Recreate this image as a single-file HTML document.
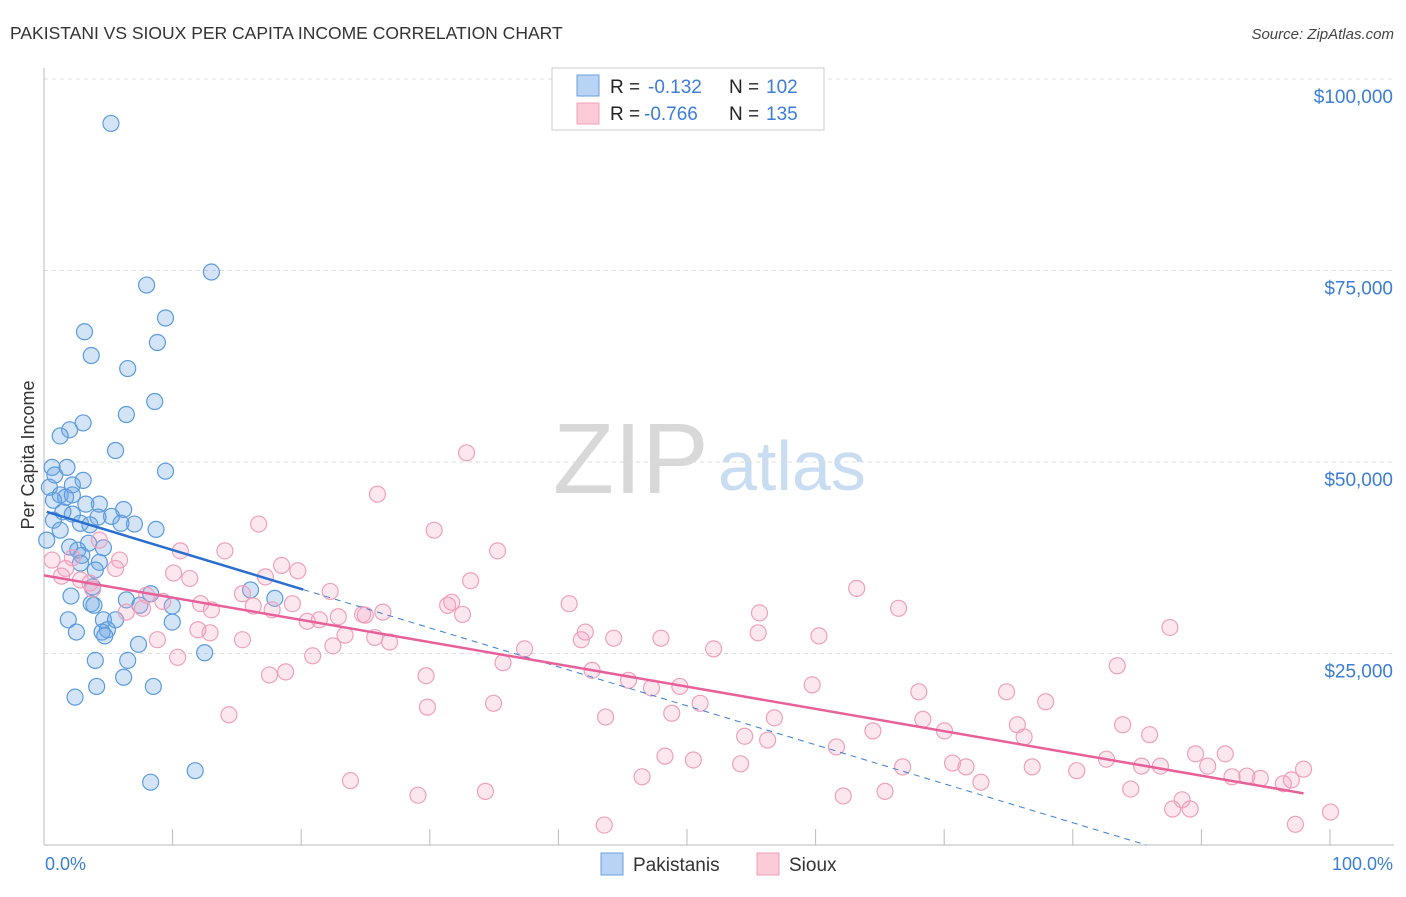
<!DOCTYPE html>
<html><head><meta charset="utf-8"><style>
body{margin:0;background:#fff;font-family:"Liberation Sans",sans-serif;}
svg text{font-family:"Liberation Sans",sans-serif;}
</style></head><body>
<svg id="chart" width="1406" height="892" viewBox="0 0 1406 892" xmlns="http://www.w3.org/2000/svg">
<text x="10" y="39" font-size="17.5" fill="#333">PAKISTANI VS SIOUX PER CAPITA INCOME CORRELATION CHART</text>
<text x="1394" y="39" font-size="15" fill="#444" text-anchor="end" font-style="italic">Source: ZipAtlas.com</text>
<g>
<text x="553" y="493" font-size="100" fill="#d8d8d8" font-family="Liberation Serif, serif">ZIP</text>
<text x="718" y="490" font-size="70" fill="#c8dcf2">atlas</text>
</g>
<g id="grid"></g>
<g id="axes"></g>
<g id="blue"></g>
<g id="pink"></g>
<g id="trends"></g>
<text transform="translate(34,455) rotate(-90)" font-size="18" fill="#333" text-anchor="middle">Per Capita Income</text>
<text x="45" y="870" font-size="18" fill="#3b7dd8">0.0%</text>
<text x="1393" y="870" font-size="18" fill="#3b7dd8" text-anchor="end">100.0%</text>
<g>
<rect x="552" y="68" width="272" height="62" fill="#fff" stroke="#ccc"/>
<rect x="577" y="75" width="22" height="21" fill="#b8d3f3" stroke="#6aa0e0"/>
<rect x="577" y="103" width="22" height="21" fill="#fbcbd8" stroke="#f0a0b8"/>
<text x="610" y="93" font-size="19" fill="#222">R = </text><text x="648" y="93" font-size="19" fill="#3b7dd8">-0.132</text>
<text x="729" y="93" font-size="19" fill="#222">N = </text><text x="766" y="93" font-size="19" fill="#3b7dd8">102</text>
<text x="610" y="120" font-size="19" fill="#222">R = </text><text x="644" y="120" font-size="19" fill="#3b7dd8">-0.766</text>
<text x="729" y="120" font-size="19" fill="#222">N = </text><text x="766" y="120" font-size="19" fill="#3b7dd8">135</text>
</g>
<g>
<rect x="601" y="853" width="22" height="22" fill="#b8d3f3" stroke="#6aa0e0"/>
<text x="633" y="871" font-size="19" fill="#333">Pakistanis</text>
<rect x="757" y="853" width="22" height="22" fill="#fbcbd8" stroke="#f0a0b8"/>
<text x="789" y="871" font-size="19" fill="#333">Sioux</text>
</g>
</svg>
<script>
const yTicks=[25000,50000,75000,100000];
const yTickLabels=["$25,000","$50,000","$75,000","$100,000"];
const blueX=[4.96,12.4,7.6,9.0,3.0,8.4,3.5,6.2,6.1,8.2,2.9,1.9,1.2,5.3,9.0,0.6,1.7,0.8,2.9,2.1,0.4,1.2,1.6,2.1,0.7,4.1,3.1,5.9,1.4,2.1,5.0,0.7,4.0,2.7,3.4,5.7,6.7,8.3,1.2,0.2,3.3,1.9,4.4,2.5,2.8,4.1,2.7,3.8,3.6,7.9,2.0,15.3,6.1,17.1,3.5,3.7,9.5,7.1,4.4,1.8,5.3,9.5,4.7,4.3,2.4,4.5,7.0,11.9,3.8,6.2,5.9,3.9,8.1,2.3,11.2,7.9];
const blueY=[94.2,74.8,73.1,68.8,67.0,65.6,63.9,62.2,56.2,57.9,55.1,54.2,53.4,51.5,48.8,49.3,49.3,48.3,47.6,47.0,46.7,45.7,45.4,45.7,45.0,44.5,44.5,43.8,43.5,43.2,42.9,42.4,42.8,42.0,41.8,42.0,41.9,41.2,41.1,39.8,39.4,38.9,38.8,38.5,37.8,36.9,36.8,35.9,33.7,32.8,32.5,33.3,32.0,32.2,31.5,31.3,31.2,31.3,29.4,29.4,29.4,29.1,28.1,27.8,27.8,27.3,26.2,25.1,24.1,24.1,21.9,20.7,20.7,19.3,9.7,8.2];
const pinkX=[0.6,1.6,1.3,2.1,2.7,3.4,4.1,5.3,5.6,3.6,6.1,7.3,7.6,8.8,10.1,10.8,11.6,9.9,8.4,9.6,12.4,12.3,11.4,13.4,13.7,14.7,14.7,15.9,16.4,16.7,15.5,16.9,17.9,17.6,18.4,18.8,19.5,19.9,20.4,21.2,21.4,21.8,22.3,22.7,23.6,23.8,24.5,24.7,25.1,25.6,27.7,28.3,28.4,28.9,29.9,30.2,31.0,31.3,31.6,32.7,33.3,33.6,34.0,35.6,38.9,39.8,40.1,40.6,41.5,41.6,42.2,43.3,44.3,45.0,45.7,46.0,46.5,47.1,48.1,48.6,49.6,51.6,51.9,52.9,53.0,53.6,54.1,56.9,57.4,58.7,59.2,60.2,61.4,62.3,63.3,63.6,64.8,65.1,66.7,67.3,68.3,69.4,71.3,72.1,72.6,73.2,74.2,76.5,78.7,79.5,79.9,80.5,81.3,81.9,82.7,83.4,83.6,84.3,84.9,85.3,86.2,87.5,88.0,89.1,90.1,91.8,92.4,92.7,93.3,95.3];
const pinkY=[37.2,36.1,35.1,37.5,34.6,34.2,39.8,36.1,37.2,33.4,30.4,30.9,32.6,31.8,38.4,34.8,31.5,24.5,26.8,35.5,30.7,27.7,28.1,38.4,17.0,26.8,32.8,41.9,35.0,22.2,31.2,30.7,22.6,36.5,31.5,35.8,29.2,24.7,29.4,33.1,26.0,29.8,27.4,8.4,30.1,30.0,27.1,45.8,30.4,26.5,6.5,22.1,18.0,41.1,31.3,31.7,30.1,51.2,34.5,7.0,18.5,38.4,23.8,25.6,31.5,26.8,27.8,22.8,2.6,16.7,27.0,21.5,8.9,20.5,27.0,11.6,17.2,20.7,11.1,18.5,25.6,10.6,14.2,27.7,30.3,13.7,16.6,20.9,27.3,12.8,6.4,33.5,14.9,7.0,30.9,10.2,20.0,16.4,14.9,10.7,10.2,8.2,20.0,15.7,14.1,10.2,18.7,9.7,11.2,23.4,15.7,7.3,10.3,14.4,10.3,28.4,4.7,5.9,4.7,11.9,10.3,11.9,8.9,9.0,8.7,8.0,8.5,2.7,9.9,4.3];
const blueTrend=[43.6,-0.534]; const blueSolidEnd=19.2;
const pinkTrend=[35.2,-0.305]; const pinkEnd=93.3;

const NS="http://www.w3.org/2000/svg";
const L=44,R=1394,T=79,B=845;
const sx=v=>L+(R-L)*v/100;
const sy=v=>B-(B-T)*v/100000;
function mk(tag,parent,attrs){const e=document.createElementNS(NS,tag);for(const k in attrs)e.setAttribute(k,attrs[k]);parent.appendChild(e);return e;}
const grid=document.getElementById('grid');
yTicks.forEach((t,i)=>{
  const ln=mk('line',grid,{x1:L,x2:R,y1:sy(t),y2:sy(t),stroke:'#ddd','stroke-dasharray':'4,4'});
  
  
  const tx=mk('text',grid,{x:1393,y:sy(t)+24,'font-size':19,fill:'#3b7dd8','text-anchor':'end'});
  tx.textContent=yTickLabels[i];
  
  
});
const ax=document.getElementById('axes');
const yl=mk('line',ax,{x1:L,x2:L,y1:68,y2:B,stroke:'#bbb'});


const xl=mk('line',ax,{x1:L,x2:R,y1:B,y2:B,stroke:'#bbb'});


for(let i=1;i<=10;i++){const x=L+i*128.6;
  const tk=mk('line',ax,{x1:x,x2:x,y1:829,y2:B,stroke:'#bbb'});
  
  
}
const bg=document.getElementById('blue');
blueX.forEach((x,i)=>{const c=mk('circle',bg,{cx:sx(x),cy:sy(blueY[i]*1000),r:8,fill:'rgba(110,165,230,0.3)',stroke:'#5b9be0','stroke-width':1.2});
  
  });
const pg=document.getElementById('pink');
pinkX.forEach((x,i)=>{const c=mk('circle',pg,{cx:sx(x),cy:sy(pinkY[i]*1000),r:8,fill:'rgba(245,160,190,0.25)',stroke:'#f0a0bb','stroke-width':1.2});
  
  });
const tg=document.getElementById('trends');
const bf=x=>(blueTrend[0]+blueTrend[1]*x)*1000;
const bZero=-blueTrend[0]/blueTrend[1];
const bd=mk('line',tg,{x1:sx(blueSolidEnd),y1:sy(bf(blueSolidEnd)),x2:sx(bZero),y2:sy(0),stroke:'#3a7fd8','stroke-width':1,'stroke-dasharray':'6,5'});


const bs=mk('line',tg,{x1:sx(0.2),y1:sy(bf(0.2)),x2:sx(blueSolidEnd),y2:sy(bf(blueSolidEnd)),stroke:'#2a6fd0','stroke-width':2.5});


const pf=x=>(pinkTrend[0]+pinkTrend[1]*x)*1000;
const ps=mk('line',tg,{x1:sx(0),y1:sy(pf(0)),x2:sx(pinkEnd),y2:sy(pf(pinkEnd)),stroke:'#e8609a','stroke-width':2.5});


</script>
</body></html>
